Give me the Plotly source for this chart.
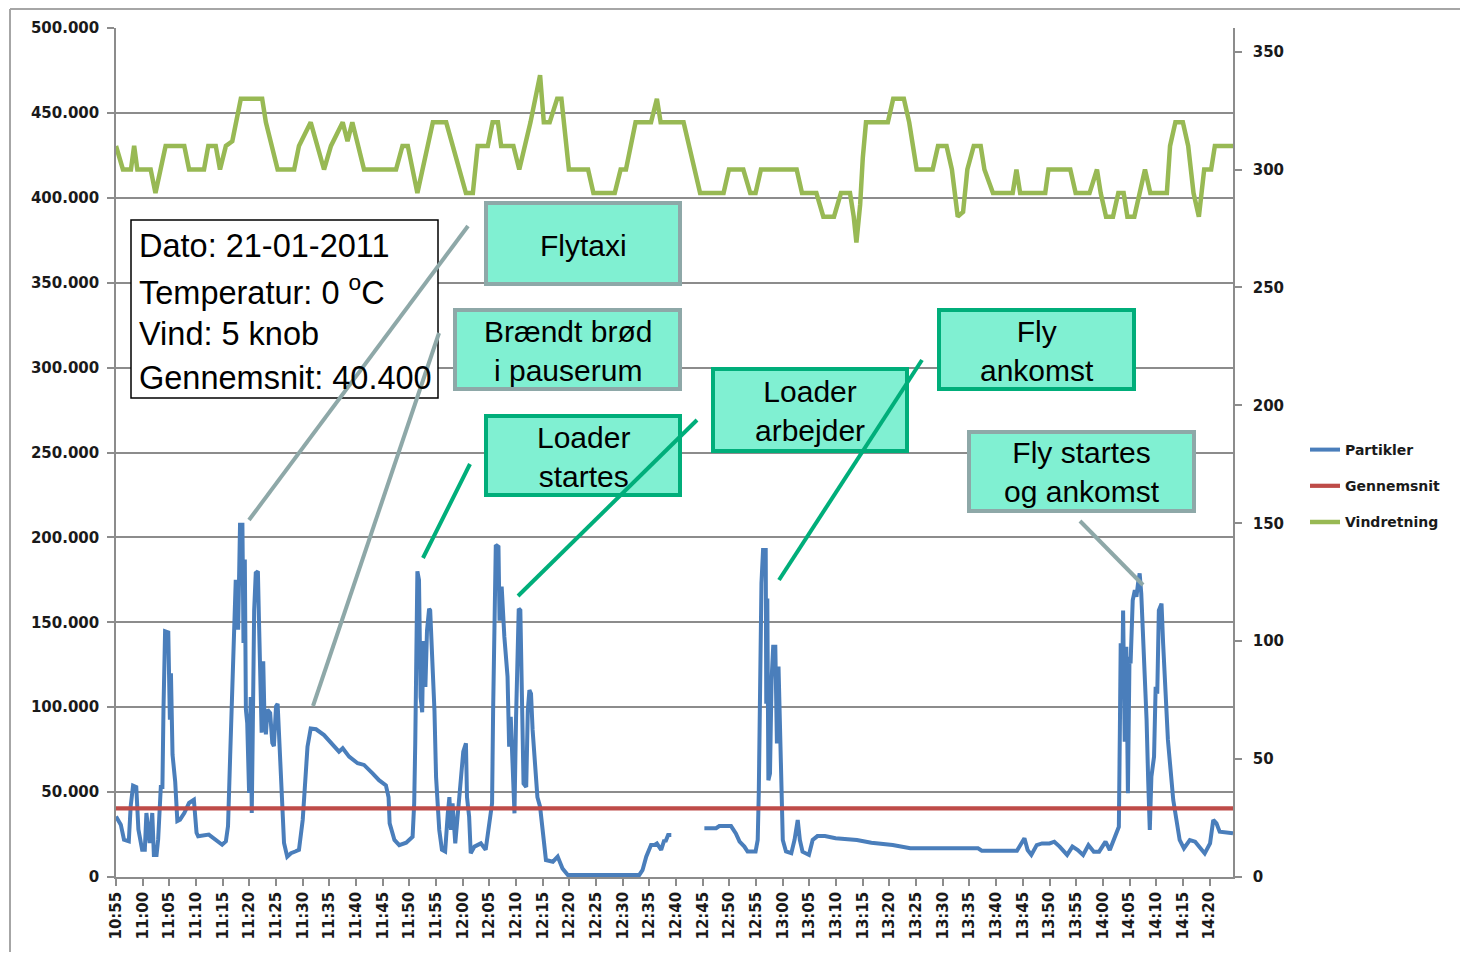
import plotly.graph_objects as go
import pandas as pd

# ---------------- data ----------------
DATE = "2011-01-21"
START = "10:55:00"          # first category on the time axis
END_MIN = 209.4             # last sample, minutes after 10:55

# Partikler: minutes after 10:55 and particle counts (None = missing data)
PART_MIN = [0.0, 0.9, 1.5, 2.4, 2.75, 3.2, 3.8, 4.2, 4.9, 5.4, 5.7, 6.1, 6.3, 6.8, 7.1, 7.6, 7.9,
            8.4, 8.7, 8.9, 9.2, 9.8, 10.1, 10.3, 10.6, 11.1, 11.5, 12.0, 12.8, 13.7, 14.6, 15.1,
            15.4, 17.4, 18.7, 19.9, 20.6, 21.0, 21.4, 21.8, 22.1, 22.45, 22.9, 23.25, 23.7, 23.9,
            24.15, 24.35, 24.6, 24.95, 25.25, 25.45, 25.7, 25.9, 26.2, 26.6, 26.8, 27.1, 27.3,
            27.6, 27.8, 28.1, 28.4, 28.9, 29.3, 29.6, 30.0, 30.3, 30.6, 30.9, 31.2, 31.5, 32.1,
            32.8, 33.6, 34.3, 35.0, 35.5, 35.9, 36.5, 37.5, 39.0, 40.6, 41.8, 42.5, 43.7, 45.3,
            46.5, 48.1, 49.3, 50.6, 51.1, 51.3, 52.2, 53.1, 54.4, 55.6, 55.9, 56.1, 56.25, 56.5,
            56.8, 57.1, 57.4, 57.6, 58.0, 58.3, 58.7, 58.9, 59.4, 59.7, 60.0, 60.6, 61.1, 61.7,
            62.2, 62.5, 62.8, 63.1, 63.6, 64.2, 64.7, 65.1, 65.6, 65.8, 66.2, 66.5, 67.2, 68.4,
            69.3, 70.0, 70.5, 70.7, 70.9, 71.2, 71.7, 71.9, 72.3, 72.8, 73.4, 73.7, 74.0, 74.7,
            75.0, 75.5, 75.8, 76.1, 76.4, 76.9, 77.2, 77.5, 77.8, 78.1, 78.6, 79.0, 79.5, 80.0,
            80.6, 81.9, 82.8, 83.7, 84.7, 98.1, 98.7, 99.4, 100.3, 100.9, 101.4, 102.2, 102.8,
            103.0, 103.5, 104.1, 107.0, 110.3, 112.5, 113.1, 115.3, 116.2, 116.9, 117.8, 118.4,
            119.9, 120.3, 120.5, 120.8, 121.0, 121.3, 121.8, 121.9, 122.1, 122.3, 122.6, 122.9,
            123.2, 123.6, 123.9, 124.2, 124.5, 124.7, 125.0, 125.6, 126.6, 127.2, 127.8, 128.2,
            128.7, 129.9, 130.6, 131.5, 132.9, 134.9, 138.9, 141.6, 145.6, 148.9, 161.6, 162.3,
            168.9, 170.3, 170.9, 171.6, 172.6, 173.6, 175.0, 175.9, 176.9, 178.3, 179.3, 180.3,
            181.3, 182.3, 183.3, 184.3, 185.5, 186.3, 187.0, 188.0, 188.2, 188.35, 188.6, 188.8,
            189.1, 189.4, 189.7, 190.0, 190.2, 190.6, 191.0, 191.3, 191.6, 191.9, 192.2, 192.5,
            192.9, 193.2, 193.5, 193.8, 194.1, 194.6, 194.9, 195.2, 195.5, 196.0, 196.3, 196.8,
            197.2, 197.7, 198.2, 198.8, 199.4, 200.2, 201.3, 202.3, 203.2, 204.1, 205.1, 205.7,
            206.3, 206.9, 209.4]
PART_VAL = [35700, 30800, 22000, 21000, 41600, 53800, 53000, 28000, 16000, 16000, 37700, 28000,
            20000, 37700, 13000, 13000, 22000, 53000, 53000, 98500, 144700, 144000, 92600, 120000,
            72000, 56000, 33000, 33800, 37700, 43600, 45500, 26000, 24000, 25000, 22000, 19000,
            21000, 30000, 71000, 112000, 152500, 175000, 145600, 207500, 207500, 137800, 187000,
            98500, 90700, 49500, 106000, 37700, 102000, 157000, 179000, 180000, 151500, 98500,
            85000, 127000, 98500, 84000, 98500, 96600, 79000, 77000, 100500, 102000, 79000, 65000,
            43600, 20000, 12000, 14000, 15000, 16000, 33600, 59000, 76700, 87500, 87000, 83600,
            77700, 73800, 75800, 70900, 67000, 66000, 61000, 57000, 54000, 47000, 31600, 21800,
            18800, 20200, 23700, 43400, 78700, 145000, 180000, 175000, 106000, 97000, 139000,
            112000, 145000, 158000, 157000, 120000, 98000, 59000, 27700, 16000, 15000, 37500,
            47000, 27700, 43400, 19800, 43400, 61000, 73800, 78700, 47000, 35500, 14000, 17900,
            19800, 16000, 31600, 43400, 98300, 157000, 195500, 194500, 151000, 171000, 141500,
            118000, 76800, 94400, 37500, 94400, 158000, 157000, 86600, 55000, 53000, 98300,
            110000, 108000, 86600, 61000, 47000, 41400, 27700, 10000, 9000, 12000, 5000, 1200,
            1200, 4000, 12000, 18800, 18800, 19800, 16000, 21800, 20800, 24700, 24700, None,
            28700, 28700, 30000, 30000, 25700, 20800, 17900, 15000, 15000, 21800, 49300, 110000,
            173000, 192600, 192600, 102000, 164000, 57000, 61000, 116000, 135600, 135600, 78700,
            124000, 84600, 41400, 21800, 15000, 14000, 21800, 33600, 21800, 14900, 13000, 21800,
            24100, 24100, 22800, 21800, 20200, 18800, 16900, 16900, 15500, 15500, 22800, 15900,
            13000, 18800, 19800, 19800, 20800, 17900, 13000, 17900, 15900, 13000, 18800, 14900,
            14900, 20800, 15900, 21800, 29600, 88500, 137600, 108000, 157000, 79700, 135600,
            49300, 129700, 125800, 163000, 169000, 165000, 173000, 178800, 167000, 147000,
            124000, 92500, 57000, 27700, 59000, 70900, 112000, 108000, 157000, 161000, 137600,
            108000, 80700, 63000, 45300, 33600, 21800, 16900, 21800, 20800, 16900, 13900, 19800,
            33600, 31600, 26700, 25700]

# Gennemsnit (average of Partikler)
AVG_VALUE = 40400
AVG_MIN = [0.0, END_MIN]

# Vindretning (degrees, secondary axis)
WIND_MIN = [0.0, 1.3, 2.8, 3.4, 4.0, 6.5, 7.4, 9.3, 12.8, 13.7, 16.5, 17.3, 18.7, 19.5, 20.6,
            21.8, 23.4, 27.4, 28.1, 30.3, 33.4, 34.3, 36.5, 39.0, 40.3, 42.5, 43.4, 44.3, 46.5,
            52.5, 53.7, 54.7, 56.5, 59.4, 61.9, 63.1, 65.6, 66.9, 67.8, 69.7, 70.6, 71.6, 72.2,
            74.5, 75.6, 77.7, 79.5, 80.2, 81.3, 82.7, 83.5, 84.9, 88.5, 89.5, 93.5, 94.6, 95.6,
            97.4, 100.3, 101.4, 102.1, 106.4, 107.4, 108.5, 109.5, 113.9, 114.9, 117.6, 118.9,
            119.9, 120.9, 127.6, 128.6, 131.3, 132.6, 134.6, 135.9, 137.6, 138.3, 138.8, 139.5,
            140.0, 140.6, 144.7, 145.7, 147.7, 148.7, 149.4, 150.1, 153.1, 154.1, 155.7, 156.7,
            157.8, 158.8, 159.6, 160.8, 162.1, 162.8, 164.4, 168.1, 168.8, 169.5, 174.2, 174.8,
            178.9, 179.9, 182.5, 183.9, 184.6, 185.6, 186.9, 187.9, 188.9, 189.6, 190.9, 191.9,
            192.9, 193.9, 197.0, 197.6, 198.6, 200.0, 201.0, 202.0, 203.0, 204.0, 205.3, 206.0,
            207.3, 209.4]
WIND_VAL = [310, 300, 300, 310, 300, 300, 290, 310, 310, 300, 300, 310, 310, 300, 310,
            312, 330, 330, 320, 300, 300, 310, 320, 300, 310, 320, 312, 320, 300,
            300, 310, 310, 290, 320, 320, 310, 290, 290, 310, 310, 320, 320, 310,
            310, 300, 320, 340, 320, 320, 330, 330, 300, 300, 290, 290, 300, 300,
            320, 320, 330, 320, 320, 310, 300, 290, 290, 300, 300, 290,
            290, 300, 300, 290, 290, 280, 280, 290, 290, 280, 269, 285,
            305, 320, 320, 330, 330, 320, 310, 300, 300, 310, 310, 300,
            280, 282, 300, 310, 310, 300, 290, 290, 300, 290, 290, 300,
            300, 290, 290, 300, 290, 280, 280, 290, 290, 280, 280, 290,
            300, 290, 290, 310, 320, 320, 310, 290, 280, 300, 300, 310,
            310, 310]

LEFT_TICKS = [0, 50000, 100000, 150000, 200000, 250000, 300000, 350000, 400000, 450000, 500000]
RIGHT_TICKS = [0, 50, 100, 150, 200, 250, 300, 350]

SERIES_NAMES = ["Partikler", "Gennemsnit", "Vindretning"]
INFO_LINES = ["Dato: 21-01-2011", "Temperatur: 0 <sup>o</sup>C", "Vind: 5 knob", "Gennemsnit: 40.400"]

# ---------------- build ----------------
base = pd.Timestamp(f"{DATE} {START}")


def to_time(mins):
    return [base + pd.Timedelta(minutes=m) for m in mins]


BLUE = "#4A7EBB"
RED = "#BE4B48"
GREEN = "#98B954"
GRID = "#8C8C8C"
MINT = "#80F0D2"
GRAYB = "#8EA8A8"
GREENB = "#00AE7A"

fig = go.Figure()
fig.add_trace(go.Scatter(x=to_time(PART_MIN), y=PART_VAL, name=SERIES_NAMES[0], mode="lines",
                         line=dict(color=BLUE, width=4), connectgaps=False, legendgroup="a"))
fig.add_trace(go.Scatter(x=to_time(AVG_MIN), y=[AVG_VALUE] * len(AVG_MIN), name=SERIES_NAMES[1],
                         mode="lines", line=dict(color=RED, width=4.2), legendgroup="b"))
fig.add_trace(go.Scatter(x=to_time(WIND_MIN), y=WIND_VAL, name=SERIES_NAMES[2], mode="lines",
                         line=dict(color=GREEN, width=4.5), yaxis="y2", legendgroup="c"))

# page offset caused by the default 8px body margin of the html page
OFF = 8
W, H = 1468 - 2 * OFF, 960 - 2 * OFF
# plot area in page pixels
X0, X1, YT, YB = 116, 1233, 28, 877


def P(x, y):
    return (x - X0) / (X1 - X0), (YB - y) / (YB - YT)


shapes = []
annotations = []


def rect(x0, y0, x1, y1, fill, color, width):
    a = P(x0, y0)
    b = P(x1, y1)
    shapes.append(dict(type="rect", xref="paper", yref="paper", x0=a[0], y0=a[1], x1=b[0], y1=b[1],
                       fillcolor=fill, line=dict(color=color, width=width), layer="above"))


def seg(x0, y0, x1, y1, color, width):
    a = P(x0, y0)
    b = P(x1, y1)
    shapes.append(dict(type="line", xref="paper", yref="paper", x0=a[0], y0=a[1], x1=b[0], y1=b[1],
                       line=dict(color=color, width=width), layer="above"))


def text(x, y, s, size, anchor="center", family="Liberation Sans"):
    px, py = P(x, y)
    annotations.append(dict(x=px, y=py, xref="paper", yref="paper", text=s, showarrow=False,
                            xanchor=anchor, yanchor="middle", align=anchor if anchor != "center" else "center",
                            font=dict(family=family, size=size, color="black")))


# outer chart border
seg(10, 9, 1480, 9, "#A6A6A6", 2)
seg(10, 9, 10, 980, "#A6A6A6", 2)

# info box
rect(131, 220, 438, 398, "white", "black", 1.5)
for i, line in enumerate(INFO_LINES):
    text(137, 246 + 44 * i, line, 32.5, anchor="left")

# callout boxes
rect(486, 203, 680, 284, MINT, GRAYB, 4)
text(583, 245, "Flytaxi", 30)
rect(455, 310, 680, 389, MINT, GRAYB, 4)
text(568, 351, "Brændt brød<br>i pauserum", 30)
rect(486, 416, 680, 495, MINT, GREENB, 4)
text(583, 457, "Loader<br>startes", 30)
rect(713, 369, 907, 451, MINT, GREENB, 4)
text(810, 411, "Loader<br>arbejder", 30)
rect(939, 310, 1134, 389, MINT, GREENB, 4)
text(1037, 351, "Fly<br>ankomst", 30)
rect(969, 432, 1194, 511, MINT, GRAYB, 4)
text(1082, 472, "Fly startes<br>og ankomst", 30)

# callout leader lines
seg(468, 226, 249, 520, GRAYB, 4)
seg(439, 333, 313, 706, GRAYB, 4)
seg(470, 464, 423, 558, GREENB, 4)
seg(697, 420, 518, 596, GREENB, 4)
seg(922, 360, 779, 580, GREENB, 4)
seg(1080, 521, 1143, 585, GRAYB, 4)

tickfont = dict(family="DejaVu Sans", size=15, color="#1A1A1A", weight="bold")

fig.update_layout(
    width=W, height=H,
    margin=dict(l=X0 - OFF, r=W - (X1 - OFF), t=YT - OFF, b=H - (YB - OFF), pad=0),
    paper_bgcolor="white", plot_bgcolor="white",
    separators=",.",
    showlegend=True,
    legend=dict(x=P(1305, 0)[0], y=P(0, 434)[1], xanchor="left", yanchor="top",
                font=dict(family="DejaVu Sans", size=14, color="#1A1A1A", weight="bold"),
                tracegroupgap=15, bgcolor="rgba(0,0,0,0)", traceorder="grouped"),
    xaxis=dict(type="date", range=[base, base + pd.Timedelta(minutes=END_MIN)],
               tick0=base, dtick=300000, tickformat="%H:%M", tickangle=-90,
               showgrid=False, showline=True, linecolor=GRID, linewidth=1.5,
               ticks="outside", ticklen=7, tickcolor=GRID, tickwidth=1.5,
               tickfont=tickfont, zeroline=False),
    yaxis=dict(range=[0, 500000], tickvals=LEFT_TICKS, tickformat=",d",
               showgrid=True, gridcolor=GRID, gridwidth=1.5,
               showline=True, linecolor=GRID, linewidth=1.5, mirror=False,
               ticks="outside", ticklen=7, tickcolor=GRID, tickwidth=1.5,
               ticklabelstandoff=5,
               tickfont=tickfont, zeroline=False),
    yaxis2=dict(range=[0, 360], tickvals=RIGHT_TICKS, overlaying="y", side="right",
                showgrid=False, showline=True, linecolor=GRID, linewidth=1.5,
                ticks="outside", ticklen=7, tickcolor=GRID, tickwidth=1.5,
                ticklabelstandoff=8,
                tickfont=tickfont, zeroline=False),
    shapes=shapes,
    annotations=annotations,
)

fig.write_html("out.html")
